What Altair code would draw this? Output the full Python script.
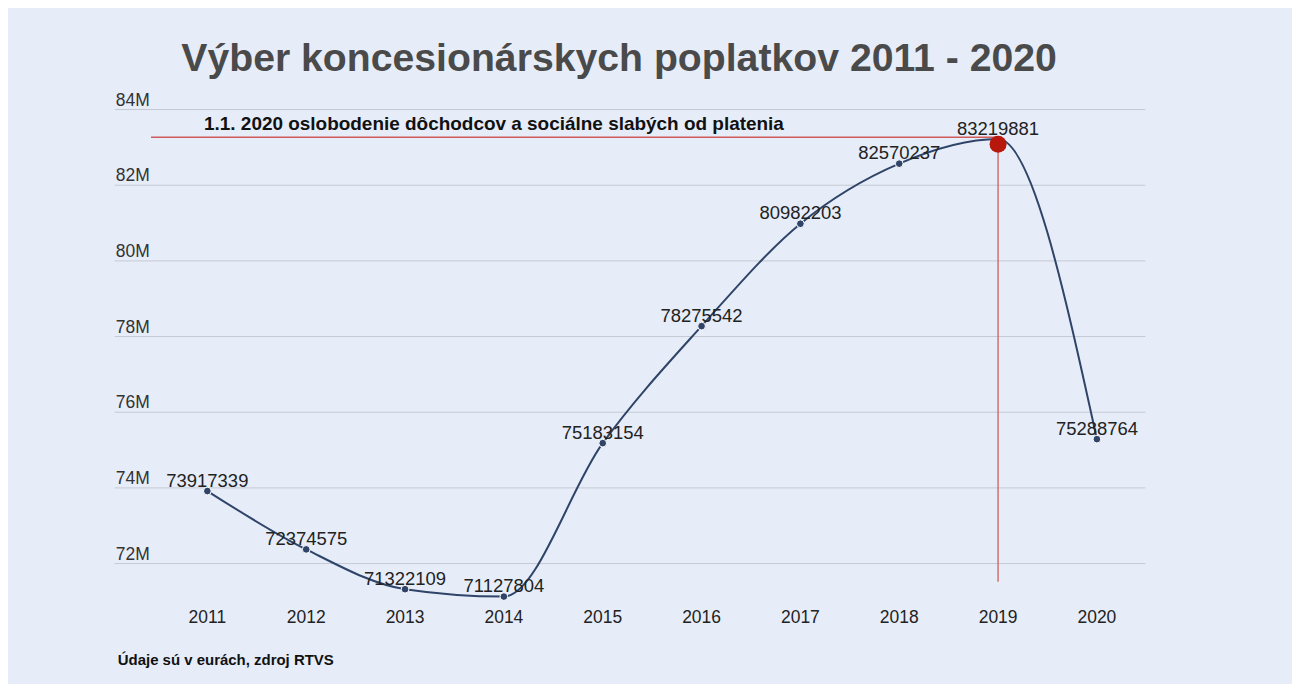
import altair as alt
import pandas as pd

# ---- data ----
years = [2011, 2012, 2013, 2014, 2015, 2016, 2017, 2018, 2019, 2020]
values = [73917339, 72374575, 71322109, 71127804, 75183154,
          78275542, 80982203, 82570237, 83219881, 75288764]

y_ticks = [72e6, 74e6, 76e6, 78e6, 80e6, 82e6, 84e6]
y_tick_labels = ["72M", "74M", "76M", "78M", "80M", "82M", "84M"]
x_tick_labels = ["2011", "2012", "2013", "2014", "2015", "2016", "2017", "2018", "2019", "2020"]

ann_text = "1.1. 2020 oslobodenie dôchodcov a sociálne slabých od platenia"
ann_text_year = [2010.966]
ann_line_start = [2010.43]
ann_line_end = [2019]
ann_line_value = [83.27e6]
ann_vline_year = [2019]
ann_vline_top = [83.08e6]
ann_vline_bottom = [71.52e6]
highlight_year = [2019]
highlight_value = [83.08e6]

title_text = "Výber koncesionárskych poplatkov 2011 - 2020"
footer_text = "Údaje sú v eurách, zdroj RTVS"

FONT = "Liberation Sans"
NAVY = "#2f4468"
RED_LINE = "#cf5b5b"
RED_DOT = "#b8170b"
BG = "#e6edf9"

X_MIN, X_MAX = 2010.063, 2020.49
Y_MIN, Y_MAX = 71e6, 84e6

df = pd.DataFrame({"year": years, "value": values})
grid = pd.DataFrame({"v": y_ticks, "lab": y_tick_labels})
xt = pd.DataFrame({"year": years, "lab": x_tick_labels})
hline = pd.DataFrame({"x": ann_line_start, "x2": ann_line_end, "y": ann_line_value})
vline = pd.DataFrame({"x": ann_vline_year, "y": ann_vline_top, "y2": ann_vline_bottom})
dot = pd.DataFrame({"x": highlight_year, "y": highlight_value})
note = pd.DataFrame({"x": ann_text_year, "y": ann_line_value, "t": [ann_text]})
foot = pd.DataFrame({"t": [footer_text]})

xs = alt.Scale(domain=[X_MIN, X_MAX], nice=False, zero=False)
ys = alt.Scale(domain=[Y_MIN, Y_MAX], nice=False, zero=False)


def X(field):
    return alt.X(field, scale=xs, axis=None)


def Y(field):
    return alt.Y(field, scale=ys, axis=None)


grid_rules = alt.Chart(grid).mark_rule(color="#c5c9d2", strokeWidth=1).encode(y=Y("v:Q"))
y_labels = alt.Chart(grid).mark_text(
    font=FONT, fontSize=17.5, color="#333333", align="left", baseline="alphabetic", dx=1, dy=-4
).encode(x=alt.X(datum=X_MIN, scale=xs, axis=None), y=Y("v:Q"), text="lab:N")
x_labels = alt.Chart(xt).mark_text(
    font=FONT, fontSize=17.5, color="#222222", align="center", baseline="alphabetic", dy=22
).encode(x=X("year:Q"), y=alt.Y(datum=Y_MIN, scale=ys, axis=None), text="lab:N")
footer = alt.Chart(foot).mark_text(
    font=FONT, fontSize=15, fontWeight="bold", color="#111111",
    align="left", baseline="alphabetic", dx=3, dy=64
).encode(x=alt.X(datum=X_MIN, scale=xs, axis=None),
         y=alt.Y(datum=Y_MIN, scale=ys, axis=None), text="t:N")

hrule = alt.Chart(hline).mark_rule(color=RED_LINE, strokeWidth=1.5).encode(
    x=X("x:Q"), x2="x2:Q", y=Y("y:Q"))
vrule = alt.Chart(vline).mark_rule(color=RED_LINE, strokeWidth=1.5, opacity=0.85).encode(
    x=X("x:Q"), y=Y("y:Q"), y2="y2:Q")
line = alt.Chart(df).mark_line(color=NAVY, strokeWidth=2, interpolate="monotone").encode(
    x=X("year:Q"), y=Y("value:Q"))
points = alt.Chart(df).mark_point(
    filled=True, color=NAVY, size=60, stroke="white", strokeWidth=1, opacity=1
).encode(x=X("year:Q"), y=Y("value:Q"))
big_dot = alt.Chart(dot).mark_point(filled=True, color=RED_DOT, size=290, opacity=1).encode(
    x=X("x:Q"), y=Y("y:Q"))
labels = alt.Chart(df).mark_text(
    font=FONT, fontSize=18.5, color="#222222", baseline="alphabetic", align="center", dy=-4.5
).encode(x=X("year:Q"), y=Y("value:Q"), text=alt.Text("value:Q", format="d"))
note_text = alt.Chart(note).mark_text(
    font=FONT, fontSize=19, fontWeight="bold", color="#111111",
    baseline="alphabetic", align="left", dy=-7
).encode(x=X("x:Q"), y=Y("y:Q"), text="t:N")

chart = alt.layer(
    grid_rules, y_labels, x_labels, footer, hrule, vrule, line, points, big_dot, labels, note_text
).properties(
    width=1033,
    height=493,
    background=BG,
    padding={"left": 107, "top": 101, "right": 147, "bottom": 82},
    autosize=alt.AutoSizeParams(type="none"),
    title=alt.TitleParams(
        text=title_text, font=FONT, fontSize=39.3, fontWeight="bold",
        color="#4a4a4a", anchor="middle", dx=-11, offset=12,
    ),
).configure_view(stroke=None)

chart.save("out.html", embed_options={"renderer": "svg", "actions": False})
